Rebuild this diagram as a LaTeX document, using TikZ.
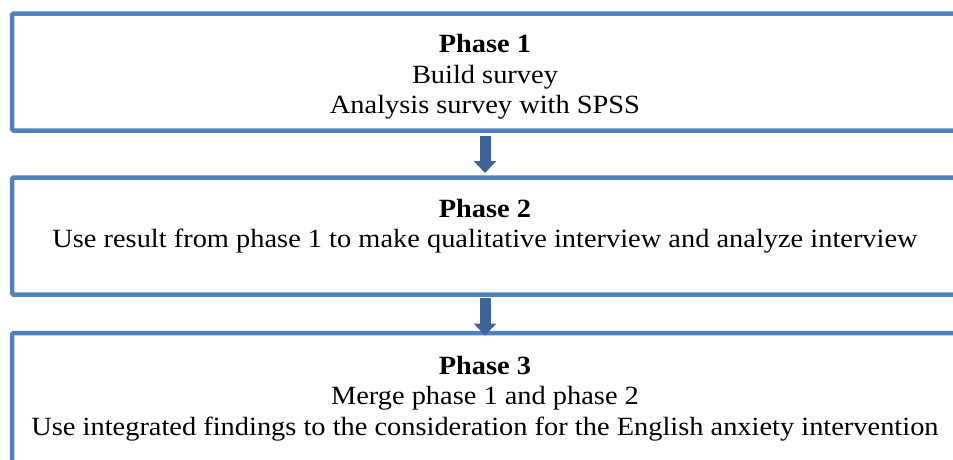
\documentclass[tikz,border=0pt]{standalone}
\usepackage{fontspec}
\setmainfont{Liberation Serif}[FakeStretch=1.08]
\usepackage{xcolor}
\usetikzlibrary{arrows.meta, positioning}
\definecolor{boxblue}{RGB}{79,129,189}
\definecolor{arrowblue}{RGB}{60,100,150}

\begin{document}
\begin{tikzpicture}[
            x=1pt, y=1pt,
            phasebox/.style={rectangle, draw=boxblue, line width=4.5pt, rounded corners=1.5pt, outer sep=0pt, minimum width=946pt, minimum height=117pt, anchor=north west},
            phasetext/.style={align=center, inner sep=0pt, font=\fontsize{26.3}{30.3}\selectfont},
            flow/.style={draw=arrowblue, line width=11pt, -{Triangle[width=22pt, length=12pt]}}
        ]
        \clip (0,0) rectangle (953,-459);

        % Phase boxes
        \node[phasebox] (phase1) at (12,-13.5) {};
        \node[phasebox, below=47pt of phase1] (phase2) {};
        \node[phasebox, below=38.5pt of phase2, minimum height=140pt] (phase3) {};

        % Box texts
        \node[phasetext, below=21pt of phase1.north] (text1) {\textbf{Phase 1}\\Build survey\\Analysis survey with SPSS};
        \node[phasetext, below=21.5pt of phase2.north] (text2) {\textbf{Phase 2}\\Use result from phase 1 to make qualitative interview and analyze interview};
        \node[phasetext, below=23pt of phase3.north] (text3) {\textbf{Phase 3}\\Merge phase 1 and phase 2\\Use integrated findings to the consideration for the English anxiety intervention};

        % Flow arrows
        \draw[flow] ([yshift=-5.5pt]phase1.south) -- ([yshift=4.5pt]phase2.north);
        \draw[flow] ([yshift=-3pt]phase2.south) -- ([yshift=-2.5pt]phase3.north);

    \end{tikzpicture}
\end{document}
